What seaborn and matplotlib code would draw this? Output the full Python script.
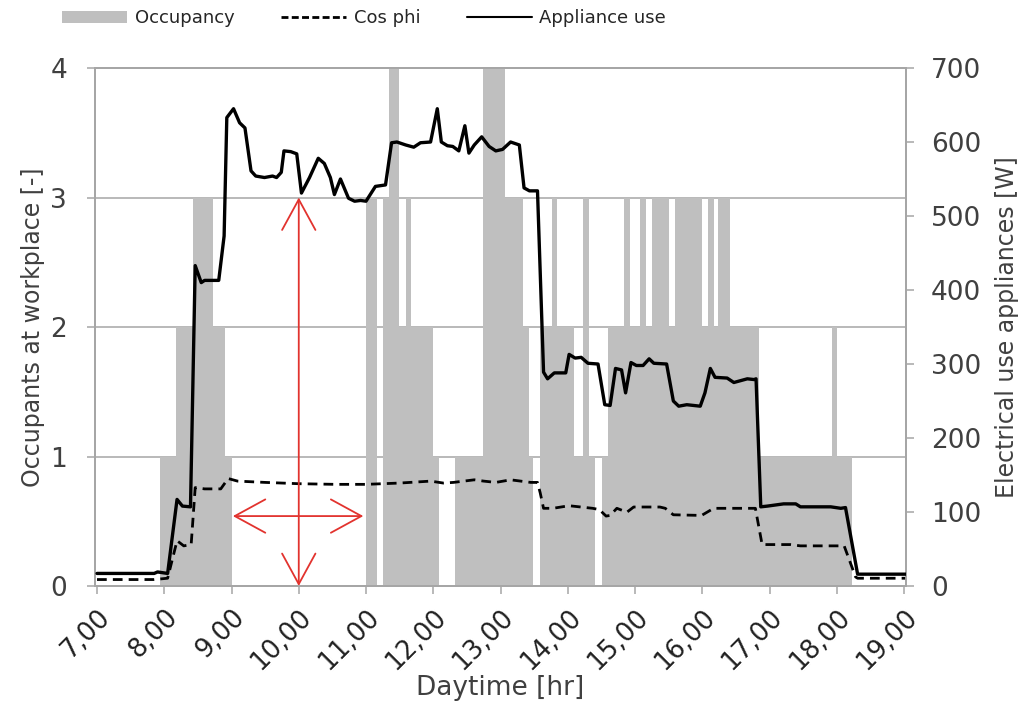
import numpy as np
import pandas as pd
import seaborn as sns
import matplotlib.pyplot as plt
from matplotlib.patches import Patch
from matplotlib.lines import Line2D

# --- occupancy step profile (interval edges in hours, level per interval) ---
occ_edges = [7.00, 7.94, 8.18, 8.42, 8.73, 8.91, 9.00, 11.00, 11.16, 11.25,
             11.34, 11.49, 11.59, 11.67, 11.99, 12.09, 12.33, 12.74, 13.07, 13.34,
             13.43, 13.48, 13.58, 13.76, 13.84, 14.10, 14.22, 14.32, 14.41, 14.51,
             14.60, 14.84, 14.93, 15.08, 15.16, 15.26, 15.50, 15.59, 16.00, 16.09,
             16.17, 16.24, 16.42, 16.84, 17.93, 18.00, 18.23, 19.05]
occ_levels = [0, 1, 2, 3, 2, 1, 0, 3, 0, 3,
              4, 2, 3, 2, 1, 0, 1, 4, 3, 2,
              1, 0, 2, 3, 2, 1, 3, 1, 0, 1,
              2, 3, 2, 3, 2, 3, 2, 3, 2, 3,
              2, 3, 2, 1, 2, 1, 0]

# --- appliance use [W] ---
app_time = [7.00, 7.85, 7.90, 8.05, 8.19, 8.27, 8.39, 8.46, 8.55, 8.60,
            8.81, 8.89, 8.93, 9.03, 9.12, 9.20, 9.29, 9.36, 9.49, 9.61,
            9.67, 9.74, 9.78, 9.88, 9.97, 10.04, 10.16, 10.29, 10.38, 10.47,
            10.53, 10.62, 10.74, 10.83, 10.92, 11.00, 11.14, 11.29, 11.38, 11.46,
            11.59, 11.71, 11.81, 11.96, 12.06, 12.12, 12.21, 12.29, 12.38, 12.47,
            12.53, 12.61, 12.72, 12.83, 12.93, 13.03, 13.15, 13.28, 13.35, 13.43,
            13.55, 13.64, 13.70, 13.80, 13.97, 14.02, 14.11, 14.20, 14.30, 14.45,
            14.55, 14.63, 14.71, 14.80, 14.86, 14.94, 15.02, 15.12, 15.21, 15.28,
            15.47, 15.57, 15.65, 15.77, 15.97, 16.04, 16.12, 16.19, 16.37, 16.47,
            16.67, 16.77, 16.80, 16.87, 16.97, 17.21, 17.39, 17.46, 17.91, 18.06,
            18.13, 18.31, 19.05]
app_watt = [17, 17, 19, 17, 117, 108, 107, 433, 410, 413,
            413, 473, 633, 645, 626, 619, 561, 554, 552, 554,
            552, 559, 588, 587, 584, 531, 552, 578, 571, 552,
            529, 550, 524, 520, 521, 520, 540, 542, 599, 600,
            596, 593, 599, 600, 645, 600, 595, 594, 588, 622,
            585, 596, 607, 594, 588, 590, 600, 596, 538, 534,
            534, 289, 280, 288, 288, 313, 308, 309, 301, 300,
            245, 244, 294, 292, 261, 302, 298, 298, 307, 301,
            300, 250, 243, 245, 243, 261, 294, 282, 281, 275,
            280, 279, 280, 107, 108, 111, 111, 107, 107, 105,
            106, 16, 16]

# --- cos phi [-] ---
cos_time = [7.00, 7.85, 8.05, 8.19, 8.29, 8.40, 8.46, 8.60, 8.84, 8.95,
            9.09, 9.50, 10.00, 10.55, 11.00, 11.50, 11.96, 12.15, 12.30, 12.61,
            12.75, 12.93, 13.15, 13.45, 13.55, 13.59, 13.64, 13.78, 14.02, 14.37,
            14.47, 14.57, 14.63, 14.73, 14.88, 14.98, 15.37, 15.45, 15.57, 15.99,
            16.17, 16.74, 16.79, 16.89, 17.31, 17.46, 18.11, 18.28, 18.31, 19.05]
cos_phi = [0.05, 0.05, 0.06, 0.35, 0.31, 0.32, 0.76, 0.75, 0.75, 0.83,
           0.81, 0.80, 0.79, 0.785, 0.785, 0.795, 0.81, 0.795, 0.80, 0.82,
           0.81, 0.80, 0.82, 0.80, 0.80, 0.72, 0.60, 0.60, 0.62, 0.60,
           0.59, 0.54, 0.545, 0.60, 0.57, 0.61, 0.61, 0.60, 0.55, 0.545,
           0.60, 0.60, 0.60, 0.32, 0.32, 0.31, 0.31, 0.07, 0.06, 0.06]

hour_ticks = list(range(7, 20))
hour_labels = [f"{h},00" for h in hour_ticks]

sns.set_style("white")
plt.rcParams['font.family'] = ['DejaVu Sans']

grey = '#a6a6a6'
txt = '#404040'

fig = plt.figure(figsize=(10.27, 7.04), dpi=100)
ax = fig.add_axes([0.0925, 0.1676, 0.7897, 0.7358])

occ = pd.DataFrame({
    'mid': [(a + b) / 2 for a, b in zip(occ_edges[:-1], occ_edges[1:])],
    'level': occ_levels,
})
sns.histplot(data=occ, x='mid', weights='level', bins=occ_edges, ax=ax,
             color='#bfbfbf', alpha=1, linewidth=0, element='bars', zorder=1)

sns.lineplot(x=cos_time, y=cos_phi, ax=ax, color='black', lw=2.0,
             linestyle=(0, (3.5, 2.2)), zorder=3)

ax.set_xlim(6.97, 19.03)
ax.set_ylim(0, 4)
ax.set_yticks([0, 1, 2, 3, 4])
ax.set_xticks(hour_ticks)
ax.set_xticklabels(hour_labels, rotation=45, ha='right', rotation_mode='anchor')
ax.set_axisbelow(True)
ax.grid(axis='y', color=grey, lw=1.1)
ax.grid(axis='x', visible=False)
for s in ax.spines.values():
    s.set_color(grey)
    s.set_linewidth(1.3)
ax.tick_params(axis='y', colors=grey, labelcolor=txt, labelsize=19, length=6,
               width=1.1, direction='out', left=True, pad=14)
ax.tick_params(axis='x', colors=grey, labelcolor='#202020', labelsize=18.5, length=6,
               width=1.1, direction='out', bottom=True, pad=7)
ax.set_ylabel('Occupants at workplace [-]', fontsize=17, color=txt, labelpad=4)
ax.set_xlabel('Daytime [hr]', fontsize=19, color=txt, labelpad=0)

ax2 = ax.twinx()
sns.lineplot(x=app_time, y=app_watt, ax=ax2, color='black', lw=2.4, zorder=4)
ax2.set_ylim(0, 700)
ax2.set_yticks(range(0, 701, 100))
ax2.grid(False)
for s in ax2.spines.values():
    s.set_color(grey)
    s.set_linewidth(1.3)
ax2.tick_params(axis='y', colors=grey, labelcolor=txt, labelsize=19, length=6,
                width=1.1, direction='out', right=True, pad=12)
ax2.set_ylabel('Electrical use appliances [W]', fontsize=17, color=txt, labelpad=10)

# red double arrows
red = '#e2332e'
ax.annotate('', xy=(10.0, 0.0), xytext=(10.0, 3.0), zorder=6,
            arrowprops=dict(arrowstyle='<->,head_length=1.1,head_width=0.6',
                            color=red, lw=1.3, mutation_scale=20, shrinkA=0, shrinkB=0))
ax.annotate('', xy=(9.02, 0.54), xytext=(10.96, 0.54), zorder=6,
            arrowprops=dict(arrowstyle='<->,head_length=1.1,head_width=0.6',
                            color=red, lw=1.3, mutation_scale=20, shrinkA=0, shrinkB=0))

handles = [Patch(facecolor='#bfbfbf', edgecolor='none'),
           Line2D([], [], color='black', lw=2, linestyle=(0, (2.5, 1.2))),
           Line2D([], [], color='black', lw=1.5)]
fig.legend(handles, ['Occupancy', 'Cos phi', 'Appliance use'], loc='upper left',
           bbox_to_anchor=(0.045, 1.01), ncol=3, frameon=False, fontsize=13,
           handlelength=3.6, handleheight=0.6, columnspacing=2.6, handletextpad=0.4)

fig.savefig('out.png', dpi=100)
